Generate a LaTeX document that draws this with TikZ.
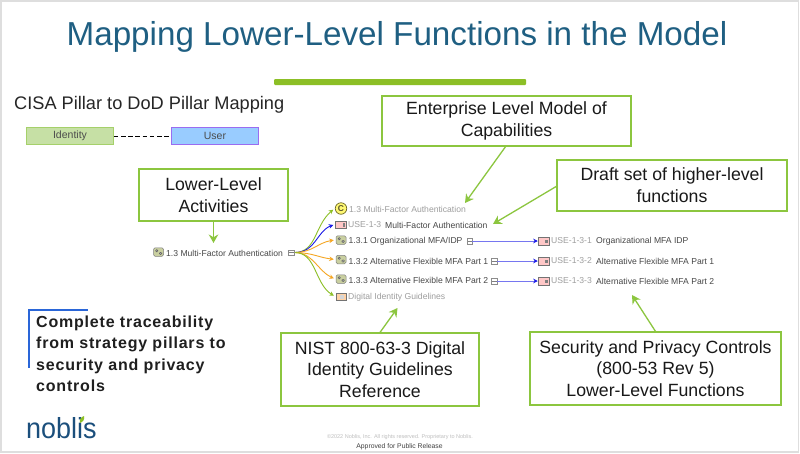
\documentclass[tikz,border=0pt]{standalone}
\usepackage{fontspec}
\setmainfont{Liberation Sans}
\usetikzlibrary{arrows.meta,bending}
\definecolor{titleblue}{HTML}{1F5F82}
\definecolor{barg}{HTML}{8CBF26}
\definecolor{boxg}{HTML}{8CC63F}
\definecolor{orangeL}{HTML}{F5A623}
\definecolor{bluel}{HTML}{1A1AE6}
\definecolor{modfill}{HTML}{C9CFA0}
\definecolor{idfill}{HTML}{C6E0A5}
\definecolor{idline}{HTML}{A5D06A}
\definecolor{userfill}{HTML}{99CCFF}
\definecolor{userline}{HTML}{9A6CF0}
\tikzset{
 x=1pt,y=-1pt,
 callout/.style={draw=boxg,line width=1.2pt,fill=white,align=center,font=\fontsize{17.7}{21.7}\selectfont,text=black!90,inner sep=0pt,minimum height=#1},
 callout/.default=50pt,
 lbl/.style={font=\fontsize{8.6}{10}\selectfont,text=black!72,anchor=west,inner sep=0pt},
 lblg/.style={font=\fontsize{8.6}{10}\selectfont,text=black!38,anchor=west,inner sep=0pt},
 conn/.style={line width=.9pt,shorten >=2pt,-{Stealth[length=4.5pt,width=4.5pt]}},
 bigarrow/.style={draw=boxg,line width=1.3pt,-{Stealth[length=8.5pt,width=9.5pt]}},
 modicon/.style={draw=black!50,fill=modfill,rounded corners=1.5pt,minimum width=10pt,minimum height=8.5pt,inner sep=0pt,line width=.5pt,
   path picture={\draw[black!60,line width=.4pt,fill=white!70!modfill] ([shift={(-3,-2.5)}]path picture bounding box.center) rectangle ++(2.5,2.5);
                 \draw[black!60,line width=.4pt,fill=white!70!modfill] ([shift={(.8,.2)}]path picture bounding box.center) rectangle ++(2.5,2.5);}},
 useicon/.style={draw=black!55,fill=red!22,minimum width=11pt,minimum height=7.5pt,inner sep=0pt,line width=.5pt,
   path picture={\fill[black!50] ([shift={(1.8,-1.5)}]path picture bounding box.center) rectangle ++(2.2,3.5);}},
 docicon/.style={draw=black!55,fill=orange!35,minimum width=10pt,minimum height=6.5pt,inner sep=0pt,line width=.5pt,
   path picture={\fill[white!60!black!40] ([shift={(-1,-2)}]path picture bounding box.center) rectangle ++(4,4);}},
 minus/.style={draw=black!45,fill=white,minimum size=5.5pt,inner sep=0pt,line width=.4pt,path picture={\draw[black!50,line width=.4pt] (path picture bounding box.west) -- (path picture bounding box.east);}},
 bluearrow/.style={line width=.9pt,draw=bluel!60!white,-{Stealth[length=4.5pt,width=4.5pt,color=bluel,fill=bluel]}},
}
\begin{document}
\begin{tikzpicture}
\useasboundingbox (0,0) rectangle (800,453);
\fill[white] (0,0) rectangle (800,453);
\draw[black!13,line width=1.5pt] (1,1) rectangle (798.5,452);
\node[font=\fontsize{33.2}{38}\selectfont,text=titleblue,inner sep=0pt] (title) at (397,37) {Mapping Lower-Level Functions in the Model};
\fill[barg,rounded corners=1pt] (274,79) rectangle (526,85);
\node[font=\fontsize{18.2}{22}\selectfont,text=black!85,inner sep=0pt,anchor=west] (cisa) at (14,105) {CISA Pillar to DoD Pillar Mapping};
\node[draw=idline,fill=idfill,minimum width=87pt,minimum height=17pt,inner sep=0pt,font=\fontsize{10.5}{12}\selectfont,text=black!70,line width=.6pt] (identity) at (70,136) {Identity};
\node[draw=userline,fill=userfill,minimum width=87pt,minimum height=17pt,inner sep=0pt,font=\fontsize{10.5}{12}\selectfont,text=black!70,line width=.8pt] (user) at (215,136) {User};
\draw[dash pattern=on 4.5pt off 2.7pt,line width=.7pt,black] (identity) -- (user);

\node[callout=50pt,minimum width=249pt] (ent) at (506.5,121) {\raisebox{-1.5pt}{Enterprise Level Model of}\\\raisebox{-1pt}{Capabilities}};
\node[callout=51pt,minimum width=230pt] (draft) at (672,185.5) {Draft set of higher-level\\functions};
\node[callout=52pt,minimum width=149pt] (low) at (213.5,195) {Lower-Level\\Activities};
\node[callout=73pt,minimum width=198pt] (nist) at (380,369.5) {NIST 800-63-3 Digital\\Identity Guidelines\\Reference};
\node[callout=73pt,minimum width=251pt] (sec) at (655.5,368.5) {Security and Privacy Controls\\(800-53 Rev 5)\\Lower-Level Functions};

% tree
\node[modicon] (rooti) at (158.5,252) {};
\node[lbl] (root) at (166,253) {1.3 Multi-Factor Authentication};
\node[minus] (rootm) at (291,252.5) {};
\coordinate (hub) at (295,252.5);

\node[circle,draw=olive!70!black,fill=yellow!55,minimum size=11.5pt,inner sep=0pt,font=\fontsize{8.5}{9}\bfseries\selectfont,text=olive!50!black,line width=.7pt] (ci) at (341,208.5) {C};
\node[lblg] (t1) at (349,209) {1.3 Multi-Factor Authentication};
\node[useicon] (ui) at (341,224.5) {};
\node[lblg] (t2) at (348,225) {USE-1-3};
\node[lbl] (t2b) at (385,225) {Multi-Factor Authentication};
\node[modicon] (m1) at (341,240) {};
\node[lbl] (t3) at (348.5,241.5) {1.3.1 Organizational MFA/IDP};
\node[minus] (m1m) at (469.5,241) {};
\node[modicon] (m2) at (341,259.5) {};
\node[lbl] (t4) at (348.5,261) {1.3.2 Alternative Flexible MFA Part 1};
\node[minus] (m2m) at (494,261) {};
\node[modicon] (m3) at (341,279) {};
\node[lbl] (t5) at (348.5,280.5) {1.3.3 Alternative Flexible MFA Part 2};
\node[minus] (m3m) at (494,281) {};
\node[docicon] (di) at (341,296.5) {};
\node[lblg] (t6) at (348,297.5) {Digital Identity Guidelines};

\draw[conn,draw=barg] (hub) .. controls (318,252) and (314,222) .. (ci.west);
\draw[conn,draw=bluel] (hub) .. controls (318,252) and (316,228) .. (ui.west);
\draw[conn,draw=orangeL] (hub) .. controls (315,252) and (318,241) .. (m1.west);
\draw[conn,draw=orangeL] (hub) .. controls (315,253) and (318,258) .. (m2.west);
\draw[conn,draw=orangeL] (hub) .. controls (315,253) and (318,274) .. (m3.west);
\draw[conn,draw=barg] (hub) .. controls (318,253) and (314,288) .. (di.west);

\foreach \n/\y/\t/\d in {1/241/1/{Organizational MFA IDP},2/261/2/{Alternative Flexible MFA Part 1},3/281/3/{Alternative Flexible MFA Part 2}}{
 \node[useicon] (u\n) at (543.5,\y) {};
 \node[lblg] (ul\n) at (551,\y) {USE-1-3-\t};
 \node[lbl] (ud\n) at (596,\y) {\d};
}
\draw[bluearrow] (m1m) -- (u1);
\draw[bluearrow] (m2m) -- (u2);
\draw[bluearrow] (m3m) -- (u3);

% callout arrows
\coordinate (e0) at (506,146);
\coordinate (a1) at (465,203);
\draw[bigarrow] (e0) -- (a1);
\coordinate (d0) at (557,186);
\coordinate (a2) at (493,224);
\draw[bigarrow] (d0) -- (a2);
\coordinate (a3) at (213.5,243);
\draw[bigarrow] (low.south) -- (a3);
\coordinate (a4) at (397.5,308);
\draw[bigarrow] (nist.north) -- (a4);
\coordinate (a5) at (632,295);
\draw[bigarrow] (sec.north) -- (a5);

% traceability
\definecolor{tracebar}{HTML}{2A66D8}
\draw[color=tracebar,line width=2pt] (87.5,309.5) -- (28.5,309.5) -- (28.5,368);
\node[anchor=north west,align=left,font=\fontsize{16}{21.4}\bfseries\selectfont\addfontfeature{LetterSpace=5},text=black!88,inner sep=0pt] (trace) at (36,315.5) {Complete traceability\\from strategy pillars to\\security and privacy\\controls};

% logo
\definecolor{logoblue}{HTML}{1B4F7C}
\node[anchor=base west,font=\fontsize{29}{32}\selectfont,text=logoblue,inner sep=0pt,xscale=.93] (logo) at (26,438) {noblis};
\fill[barg] (84,416) .. controls (85,419) and (83,422) .. (80,423) .. controls (79,420) and (81,417) .. (84,416) -- cycle;

\node[font=\fontsize{5.5}{6}\selectfont,text=black!25,inner sep=0pt] (copy) at (400,437) {©2022 Noblis, Inc. All rights reserved. Proprietary to Noblis.};
\node[font=\fontsize{6.8}{7}\selectfont,text=black!75,inner sep=0pt] (pub) at (399.5,447) {Approved for Public Release};
\end{tikzpicture}
\end{document}
